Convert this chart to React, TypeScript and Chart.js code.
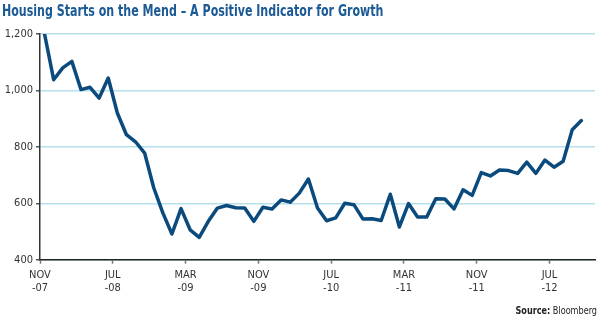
import React, { useEffect, useRef } from "react";
import { Chart, registerables } from "chart.js";

Chart.register(...registerables);

// Monthly housing starts (thousands, SAAR), Nov 2007 – Oct 2012
const housingStarts = [
  1200, 1038, 1080, 1103, 1003, 1011, 973, 1044, 920, 843,
  818, 778, 655, 566, 491, 581, 506, 479, 536, 583,
  592, 584, 583, 536, 586, 580, 612, 604, 636, 686,
  583, 538, 548, 600, 595, 544, 545, 539, 632, 516,
  599, 551, 551, 616, 615, 580, 648, 628, 709, 697,
  718, 716, 706, 746, 706, 753, 728, 749, 861, 893,
];

// One tick every 8 months, starting at NOV-07
const xTickLabels = [
  ["NOV", "-07"], ["JUL", "-08"], ["MAR", "-09"], ["NOV", "-09"],
  ["JUL", "-10"], ["MAR", "-11"], ["NOV", "-11"], ["JUL", "-12"],
];
const monthsPerTick = 8;
const totalMonths = 61;

const yTicks = [400, 600, 800, 1000, 1200];

const titleText = "Housing Starts on the Mend \u2013 A Positive Indicator for Growth";
const sourceLabel = "Source:";
const sourceName = " Bloomberg";

const FONT = "'Liberation Sans Narrow', 'DejaVu Sans Condensed', 'Arial Narrow', sans-serif";
const CONDENSE = 0.82;

const textPlugin = {
  id: "textNotes",
  afterDraw(chart: any) {
    const ctx = chart.ctx;
    // Title
    ctx.save();
    ctx.textBaseline = "alphabetic";
    ctx.textAlign = "left";
    ctx.fillStyle = "#1b5a94";
    ctx.font = `bold 15px ${FONT}`;
    ctx.translate(2, 16);
    ctx.scale(CONDENSE, 1);
    ctx.fillText(titleText, 0, 0);
    ctx.restore();

    // Source note
    ctx.save();
    ctx.textBaseline = "alphabetic";
    ctx.textAlign = "left";
    ctx.fillStyle = "#222";
    ctx.font = `11px ${FONT}`;
    const wName = ctx.measureText(sourceName).width * CONDENSE;
    ctx.font = `bold 11px ${FONT}`;
    const wLabel = ctx.measureText(sourceLabel).width * CONDENSE;
    const right = chart.width - 3;
    const y = chart.height - 11;
    ctx.save();
    ctx.translate(right - wName - wLabel, y);
    ctx.scale(CONDENSE, 1);
    ctx.fillText(sourceLabel, 0, 0);
    ctx.restore();
    ctx.font = `11px ${FONT}`;
    ctx.translate(right - wName, y);
    ctx.scale(CONDENSE, 1);
    ctx.fillText(sourceName, 0, 0);
    ctx.restore();
  },
};

export default function App() {
  const canvasRef = useRef<HTMLCanvasElement | null>(null);

  useEffect(() => {
    document.body.style.margin = "0";
    const canvas = canvasRef.current;
    if (!canvas) return;
    const chart = new Chart(canvas, {
      type: "line",
      data: {
        datasets: [
          {
            data: housingStarts.map((v, i) => ({ x: i + 0.5, y: v })),
            borderColor: "#0b4a7c",
            borderWidth: 3.5,
            pointRadius: 0,
            tension: 0,
            borderJoinStyle: "round",
            borderCapStyle: "round",
            fill: false,
          },
        ],
      },
      options: {
        animation: false,
        responsive: false,
        maintainAspectRatio: false,
        layout: { padding: { left: 2, right: 5, top: 34, bottom: 26 } },
        plugins: {
          legend: { display: false },
          tooltip: { enabled: false },
          title: { display: false },
        },
        scales: {
          x: {
            type: "linear",
            min: 0,
            max: totalMonths,
            ticks: {
              stepSize: monthsPerTick,
              includeBounds: false,
              autoSkip: false,
              maxRotation: 0,
              color: "#333",
              font: { family: FONT, size: 11, lineHeight: 1.15 },
              padding: 5,
              callback: (value: any) => {
                const v = Number(value);
                if (v % monthsPerTick !== 0) return null;
                const lbl = xTickLabels[v / monthsPerTick];
                return lbl ? lbl : null;
              },
            },
            grid: {
              drawOnChartArea: false,
              drawTicks: true,
              tickLength: 4,
              tickColor: "#777",
              tickWidth: 1.5,
            },
            border: { display: true, color: "#222", width: 1.5 },
          },
          y: {
            min: yTicks[0],
            max: yTicks[yTicks.length - 1],
            afterBuildTicks: (scale: any) => {
              scale.ticks = yTicks.map((v) => ({ value: v }));
            },
            afterFit: (scale: any) => {
              scale.width = 38;
            },
            ticks: {
              color: "#333",
              font: { family: FONT, size: 11 },
              padding: 3,
              callback: (value: any) => Number(value).toLocaleString("en-US"),
            },
            grid: {
              color: "#b5e0ec",
              lineWidth: 1.5,
              tickLength: 4,
              tickColor: "#555",
            },
            border: { display: true, color: "#333", width: 1.5 },
          },
        },
      },
      plugins: [textPlugin],
    } as any);
    return () => chart.destroy();
  }, []);

  return (
    <div style={{ position: "fixed", left: 0, top: 0, width: 600, height: 325, background: "#fff" }}>
      <canvas ref={canvasRef} width={600} height={325} style={{ width: 600, height: 325 }} />
    </div>
  );
}
